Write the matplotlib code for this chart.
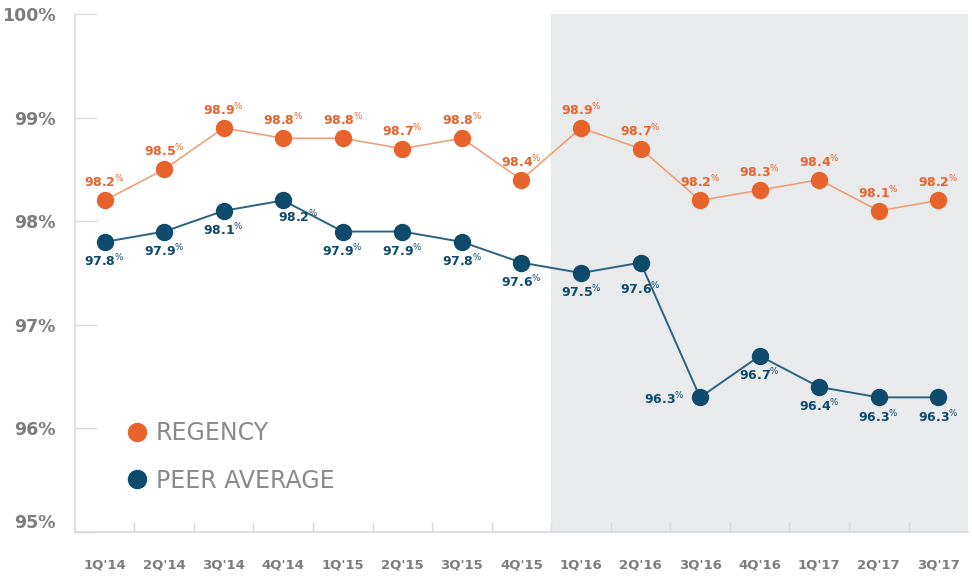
import matplotlib
matplotlib.use("Agg")
import matplotlib.pyplot as plt
from matplotlib.lines import Line2D

# =========================
# DATA
# =========================
quarters = ["1Q'14", "2Q'14", "3Q'14", "4Q'14", "1Q'15", "2Q'15", "3Q'15", "4Q'15",
            "1Q'16", "2Q'16", "3Q'16", "4Q'16", "1Q'17", "2Q'17", "3Q'17"]
regency = [98.2, 98.5, 98.9, 98.8, 98.8, 98.7, 98.8, 98.4,
           98.9, 98.7, 98.2, 98.3, 98.4, 98.1, 98.2]
peer = [97.8, 97.9, 98.1, 98.2, 97.9, 97.9, 97.8, 97.6,
        97.5, 97.6, 96.3, 96.7, 96.4, 96.3, 96.3]
y_ticks = [95, 96, 97, 98, 99, 100]
shade_from = "1Q'16"

# =========================
# STYLE
# =========================
ORANGE = "#e8632b"
ORANGE_LINE = "#f09a72"
NAVY = "#0e4a6c"
NAVY_LINE = "#2c6283"
GREY_TXT = "#7d7d7d"
AXIS_CLR = "#d6dadf"
SHADE = "#e9eaec"

plt.rcParams["font.family"] = ["DejaVu Sans"]

fig = plt.figure(figsize=(9.72, 5.79), dpi=100)
ax = fig.add_axes([0.077, 0.081, 0.919, 0.895])

x = list(range(len(quarters)))
x0 = quarters.index(shade_from) - 0.5
ax.axvspan(x0, len(quarters) - 0.5, color=SHADE, zorder=0, lw=0)

ax.plot(x, regency, color=ORANGE_LINE, lw=1.1, zorder=2)
ax.plot(x, regency, ls="none", marker="o", ms=11.5, color=ORANGE, zorder=3)
ax.plot(x, peer, color=NAVY_LINE, lw=1.4, zorder=2)
ax.plot(x, peer, ls="none", marker="o", ms=11.5, color=NAVY, zorder=3)

# label offsets in points (dx, dy, ha)
peer_off = {3: (11, -12, "center"), 9: (0, -19, "center"), 10: (-11, -1, "right")}
for i, v in enumerate(regency):
    ax.annotate(f"{v:.1f}" + r"$^{\%}$", (i, v), xytext=(0, 13),
                textcoords="offset points", ha="center", va="center",
                fontsize=9, fontweight="bold", color=ORANGE, zorder=4)
for i, v in enumerate(peer):
    dx, dy, ha = peer_off.get(i, (0, -14, "center"))
    ax.annotate(f"{v:.1f}" + r"$^{\%}$", (i, v), xytext=(dx, dy),
                textcoords="offset points", ha=ha, va="center",
                fontsize=9, fontweight="bold", color=NAVY, zorder=4)

ax.set_xlim(-0.5, len(quarters) - 0.5)
ax.set_ylim(95, 100)

ax.set_yticks(y_ticks)
ax.set_yticklabels([f"{t}%" for t in y_ticks], fontsize=12.5, fontweight="bold",
                   color=GREY_TXT)
ax.tick_params(axis="y", direction="in", length=16, width=1, color=AXIS_CLR, pad=14)
# bottom label sits a little above the axis line in the original
ax.get_yticklabels()[0].set_va("bottom")

ax.set_xticks([i + 0.5 for i in x[:-1]], minor=True)
ax.set_xticks(x)
ax.set_xticklabels(quarters, fontsize=9.5, fontweight="bold", color=GREY_TXT)
ax.tick_params(axis="x", which="major", length=0, pad=19)
ax.tick_params(axis="x", which="minor", direction="in", length=7, width=1, color=AXIS_CLR)

for s in ["top", "right"]:
    ax.spines[s].set_visible(False)
for s in ["left", "bottom"]:
    ax.spines[s].set_color(AXIS_CLR)
    ax.spines[s].set_linewidth(1.2)
ax.set_facecolor("white")

handles = [
    Line2D([], [], ls="none", marker="o", ms=13, color=ORANGE, label="REGENCY"),
    Line2D([], [], ls="none", marker="o", ms=13, color=NAVY, label="PEER AVERAGE"),
]
leg = ax.legend(handles=handles, loc="lower left", bbox_to_anchor=(0.035, 0.035),
                frameon=False, handlelength=0.8, handletextpad=0.4,
                labelspacing=1.0, prop={"size": 17})
for t in leg.get_texts():
    t.set_color("#8a8a8a")

fig.savefig("out.png", dpi=100)
